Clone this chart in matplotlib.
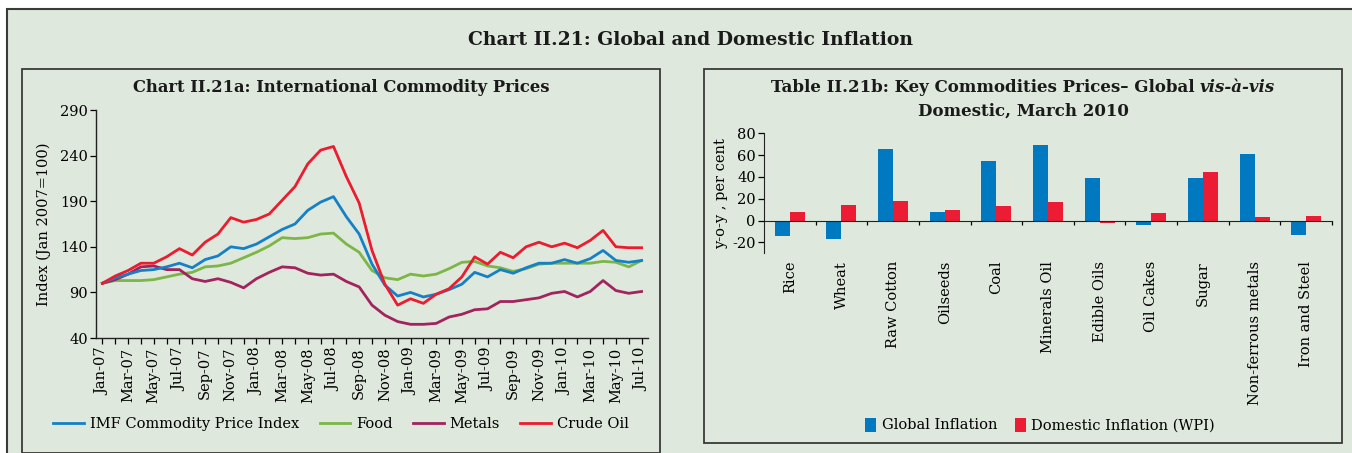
import numpy as np
import matplotlib
matplotlib.use('Agg')
import matplotlib.pyplot as plt
from matplotlib.patches import Rectangle

plt.rcParams['font.family'] = ['DejaVu Serif']
plt.rcParams['axes.unicode_minus'] = False

# ---- data: left chart (monthly index, Jan 2007 = 100) ----
months = ['Jan-07', 'Feb-07', 'Mar-07', 'Apr-07', 'May-07', 'Jun-07', 'Jul-07', 'Aug-07',
          'Sep-07', 'Oct-07', 'Nov-07', 'Dec-07', 'Jan-08', 'Feb-08', 'Mar-08', 'Apr-08',
          'May-08', 'Jun-08', 'Jul-08', 'Aug-08', 'Sep-08', 'Oct-08', 'Nov-08', 'Dec-08',
          'Jan-09', 'Feb-09', 'Mar-09', 'Apr-09', 'May-09', 'Jun-09', 'Jul-09', 'Aug-09',
          'Sep-09', 'Oct-09', 'Nov-09', 'Dec-09', 'Jan-10', 'Feb-10', 'Mar-10', 'Apr-10',
          'May-10', 'Jun-10', 'Jul-10']

imf_index = [100, 106, 110, 114, 115, 118, 122, 117, 126, 130, 140, 138, 143, 151, 159, 165,
             180, 189, 195, 173, 154, 121, 98, 86, 90, 85, 88, 93, 99, 112, 107, 115,
             111, 117, 122, 122, 126, 122, 127, 136, 125, 123, 125]
food = [100, 103, 103, 103, 104, 107, 110, 112, 118, 119, 122, 128, 134, 141, 150, 149,
        150, 154, 155, 143, 134, 114, 106, 104, 110, 108, 110, 116, 123, 124, 119, 117,
        113, 116, 121, 122, 122, 122, 122, 124, 123, 118, 125]
metals = [100, 104, 110, 118, 119, 115, 115, 105, 102, 105, 101, 95, 105, 112, 118, 117,
          111, 109, 110, 102, 96, 76, 65, 58, 55, 55, 56, 63, 66, 71, 72, 80,
          80, 82, 84, 89, 91, 85, 91, 103, 92, 89, 91]
crude_oil = [100, 108, 114, 122, 122, 129, 138, 131, 145, 154, 172, 167, 170, 176, 191, 206,
             231, 246, 250, 217, 188, 136, 99, 76, 83, 78, 88, 94, 107, 129, 121, 134,
             128, 140, 145, 140, 144, 139, 147, 158, 140, 139, 139]

# ---- data: right chart (y-o-y per cent, March 2010) ----
commodities = ['Rice', 'Wheat', 'Raw Cotton', 'Oilseeds', 'Coal', 'Minerals Oil',
               'Edible Oils', 'Oil Cakes', 'Sugar', 'Non-ferrous metals', 'Iron and Steel']
global_infl = [-14.3, -16.8, 66.0, 7.6, 54.3, 69.2, 38.7, -4.3, 39.0, 61.3, -13.4]
domestic_infl = [7.9, 14.6, 17.7, 10.0, 13.1, 16.8, -2.4, 7.0, 44.2, 3.4, 4.0]

# ---- styling ----
W, H = 1352, 453
bg = '#dfe8dc'
c_imf, c_food, c_metal, c_oil = '#1580c6', '#7bb646', '#a2235e', '#ec1c30'
c_bar_g, c_bar_d = '#0079c1', '#ec1c34'
edge = '#3a3a3a'

fig = plt.figure(figsize=(W / 100, H / 100), dpi=100, facecolor='white')


def fx(px):
    return px / W


def fy(py):
    return 1 - py / H


def box(x0, y0, x1, y1, lw=1.3):
    fig.patches.append(Rectangle((fx(x0), fy(y1)), fx(x1 - x0), (y1 - y0) / H,
                                 transform=fig.transFigure, facecolor=bg,
                                 edgecolor=edge, lw=lw, zorder=-5))


# outer frame and the two panels
box(7, 9, 1380, 480, lw=1.5)
box(22, 69, 660, 452.5)
box(704, 69, 1342, 443)

fig.text(fx(690), fy(40), 'Chart II.21: Global and Domestic Inflation',
         ha='center', va='center', fontsize=13.5, fontweight='bold', color='#1a1a1a')

# ================= left chart =================
ax1 = fig.add_axes([fx(96), fy(338), fx(648 - 96), (338 - 110) / H])
ax1.patch.set_visible(False)
x = np.arange(len(months))
lw = 2.0
ax1.plot(x, imf_index, color=c_imf, lw=lw, label='IMF Commodity Price Index', zorder=3)
ax1.plot(x, food, color=c_food, lw=lw, label='Food', zorder=2)
ax1.plot(x, metals, color=c_metal, lw=lw, label='Metals', zorder=2)
ax1.plot(x, crude_oil, color=c_oil, lw=lw, label='Crude Oil', zorder=4)

ax1.set_xlim(-0.5, len(months) - 0.5)
ax1.set_ylim(40, 290)
ax1.set_yticks(np.arange(40, 291, 50))
ax1.set_xticks(x[::2])
ax1.set_xticklabels(months[::2], rotation=90, fontsize=10.5)
ax1.set_xticks(x, minor=True)
ax1.tick_params(axis='y', labelsize=10.5, length=4, width=0.9, pad=2)
ax1.tick_params(axis='x', which='both', length=4, width=0.9, pad=3)
for s in ['top', 'right']:
    ax1.spines[s].set_visible(False)
for s in ['left', 'bottom']:
    ax1.spines[s].set_color('#222222')
    ax1.spines[s].set_linewidth(1.0)
ax1.set_ylabel('Index (Jan 2007=100)', fontsize=10.5, labelpad=6)

fig.text(fx(341), fy(88), 'Chart II.21a: International Commodity Prices',
         ha='center', va='center', fontsize=11.8, fontweight='bold', color='#1a1a1a')

fig.legend(handles=ax1.get_lines(), loc='center', bbox_to_anchor=(fx(341), fy(424)),
           ncol=4, frameon=False, fontsize=10.5, handlelength=2.1, handletextpad=0.4,
           columnspacing=1.4)

# ================= right chart =================
ax2 = fig.add_axes([fx(764), fy(253.3), fx(1332 - 764), (253.3 - 133.3) / H])
ax2.patch.set_visible(False)
pos = np.arange(len(commodities))
bw = 0.29
ax2.bar(pos - bw / 2, global_infl, bw, color=c_bar_g, label='Global Inflation', zorder=2)
ax2.bar(pos + bw / 2, domestic_infl, bw, color=c_bar_d, label='Domestic Inflation (WPI)', zorder=2)
ax2.set_xlim(-0.5, len(commodities) - 0.5)
ax2.set_ylim(-30, 80)
ax2.set_yticks(np.arange(-20, 81, 20))
ax2.tick_params(axis='y', labelsize=10.5, length=4, width=0.9, pad=2)
ax2.spines['top'].set_visible(False)
ax2.spines['right'].set_visible(False)
ax2.spines['bottom'].set_position(('data', 0))
ax2.spines['bottom'].set_bounds(-0.5, len(commodities) - 0.5)
ax2.spines['left'].set_color('#222222')
ax2.spines['bottom'].set_color('#222222')
ax2.set_xticks(pos[:-1] + 0.5)
ax2.set_xticks([len(commodities) - 0.5], minor=True)
ax2.set_xticklabels([])
ax2.tick_params(axis='x', which='both', length=3, width=0.9, direction='out')
for i, name in enumerate(commodities):
    ax2.text(i, -37, name, rotation=90, ha='center', va='top', fontsize=10.5)
ax2.set_ylabel('y-o-y , per cent', fontsize=10.5, labelpad=3)

# title with italic "vis-à-vis"
fig.canvas.draw()
renderer = fig.canvas.get_renderer()
parts = [('Table II.21b: Key Commodities Prices– Global', 'normal'), ('vis-à-vis', 'italic')]
texts = [fig.text(0, fy(88), s, fontsize=12, fontweight='bold', style=st,
                  va='center', ha='left', color='#1a1a1a') for s, st in parts]
widths = [t.get_window_extent(renderer).width for t in texts]
gap = 5
xs = 1023 - (sum(widths) + gap) / 2
for t, w in zip(texts, widths):
    t.set_x(fx(xs))
    xs += w + gap
fig.text(fx(1023), fy(111), 'Domestic, March 2010', ha='center', va='center',
         fontsize=12, fontweight='bold', color='#1a1a1a')

fig.legend(handles=ax2.patches[:1] + ax2.patches[len(commodities):len(commodities) + 1],
           labels=['Global Inflation', 'Domestic Inflation (WPI)'],
           loc='center', bbox_to_anchor=(fx(1040), fy(425)), ncol=2, frameon=False,
           fontsize=10.5, handlelength=0.75, handleheight=1.1, handletextpad=0.4,
           columnspacing=1.2)

fig.savefig('out.png', dpi=100, facecolor='white')
